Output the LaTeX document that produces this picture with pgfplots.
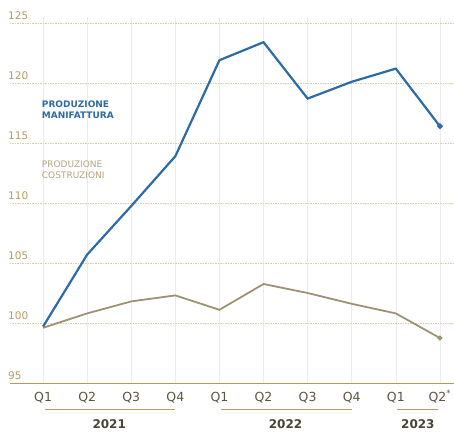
\documentclass[border=0pt]{standalone}
\usepackage{pgfplots}
\pgfplotsset{compat=1.18}
\usepackage{fontspec}
\setmainfont{DejaVu Sans}
\definecolor{manblue}{HTML}{2D6AA8}
\definecolor{costline}{HTML}{9D9273}
\definecolor{costlab}{HTML}{B3A37E}
\definecolor{ticktan}{HTML}{B69B60}
\definecolor{yeardark}{HTML}{4B4333}
\definecolor{qcol}{HTML}{5E5443}
\definecolor{hgrid}{HTML}{D9CDB0}
\definecolor{vgrid}{HTML}{ECECEC}
\begin{document}
\begin{tikzpicture}[x=1pt,y=1pt]
\useasboundingbox (0,0) rectangle (454,437);
\begin{axis}[
  at={(10pt,54pt)}, anchor=south west,
  scale only axis, width=444pt, height=366pt,
  xmin=-0.75, xmax=9.32, ymin=95, ymax=125.5,
  axis line style={draw=none},
  major tick length=0pt,
  xtick={0,...,9},
  xticklabels={Q1,Q2,Q3,Q4,Q1,Q2,Q3,Q4,Q1,Q2\textsuperscript{*}},
  ytick={95,100,...,125},
  /pgf/number format/assume math mode=true,
  xmajorgrids, ymajorgrids,
  x grid style={vgrid, line width=0.6pt},
  y grid style={hgrid, line width=0.9pt, dash pattern=on 1.5pt off 1pt},
  xticklabel style={font=\fontsize{12.5}{13}\selectfont, text=qcol, anchor=base, yshift=-18pt},
  yticklabel style={font=\fontsize{10.5}{11}\selectfont, text=ticktan, anchor=south west, inner sep=0pt, xshift=-2pt, yshift=3pt},
  clip=false,
]
\draw[ticktan, line width=0.9pt] (axis cs:-0.75,95) -- (axis cs:9.32,95);
\addplot[costline, line width=1.8pt, mark=*, mark size=1.4pt, mark indices={10}] coordinates {
  (0,99.6) (1,100.8) (2,101.8) (3,102.3) (4,101.1) (5,103.25) (6,102.5) (7,101.6) (8,100.8) (9,98.75)
};
\addplot[manblue, line width=2.2pt, mark=*, mark size=1.6pt, mark indices={10}] coordinates {
  (0,99.7) (1,105.7) (2,109.75) (3,113.9) (4,121.9) (5,123.4) (6,118.7) (7,120.1) (8,121.2) (9,116.4)
};
\node[anchor=north west, inner sep=0pt, align=left, text=manblue, font=\bfseries\fontsize{9}{10.5}\selectfont] at (axis cs:-0.03,118.5) {PRODUZIONE\\MANIFATTURA};
\node[anchor=north west, inner sep=0pt, align=left, text=costlab, font=\fontsize{9}{10.5}\selectfont] at (axis cs:-0.03,113.5) {PRODUZIONE\\COSTRUZIONI};
\draw[ticktan, line width=0.6pt] ([yshift=-26pt]axis cs:0.05,95) -- ([yshift=-26pt]axis cs:3.0,95);
\draw[ticktan, line width=0.6pt] ([yshift=-26pt]axis cs:4.04,95) -- ([yshift=-26pt]axis cs:7.0,95);
\draw[ticktan, line width=0.6pt] ([yshift=-26pt]axis cs:8.03,95) -- ([yshift=-26pt]axis cs:8.96,95);
\node[text=yeardark, font=\bfseries\fontsize{12}{13}\selectfont] at ([yshift=-41pt]axis cs:1.5,95) {2021};
\node[text=yeardark, font=\bfseries\fontsize{12}{13}\selectfont] at ([yshift=-41pt]axis cs:5.5,95) {2022};
\node[text=yeardark, font=\bfseries\fontsize{12}{13}\selectfont] at ([yshift=-41pt]axis cs:8.5,95) {2023};
\end{axis}
\end{tikzpicture}
\end{document}
